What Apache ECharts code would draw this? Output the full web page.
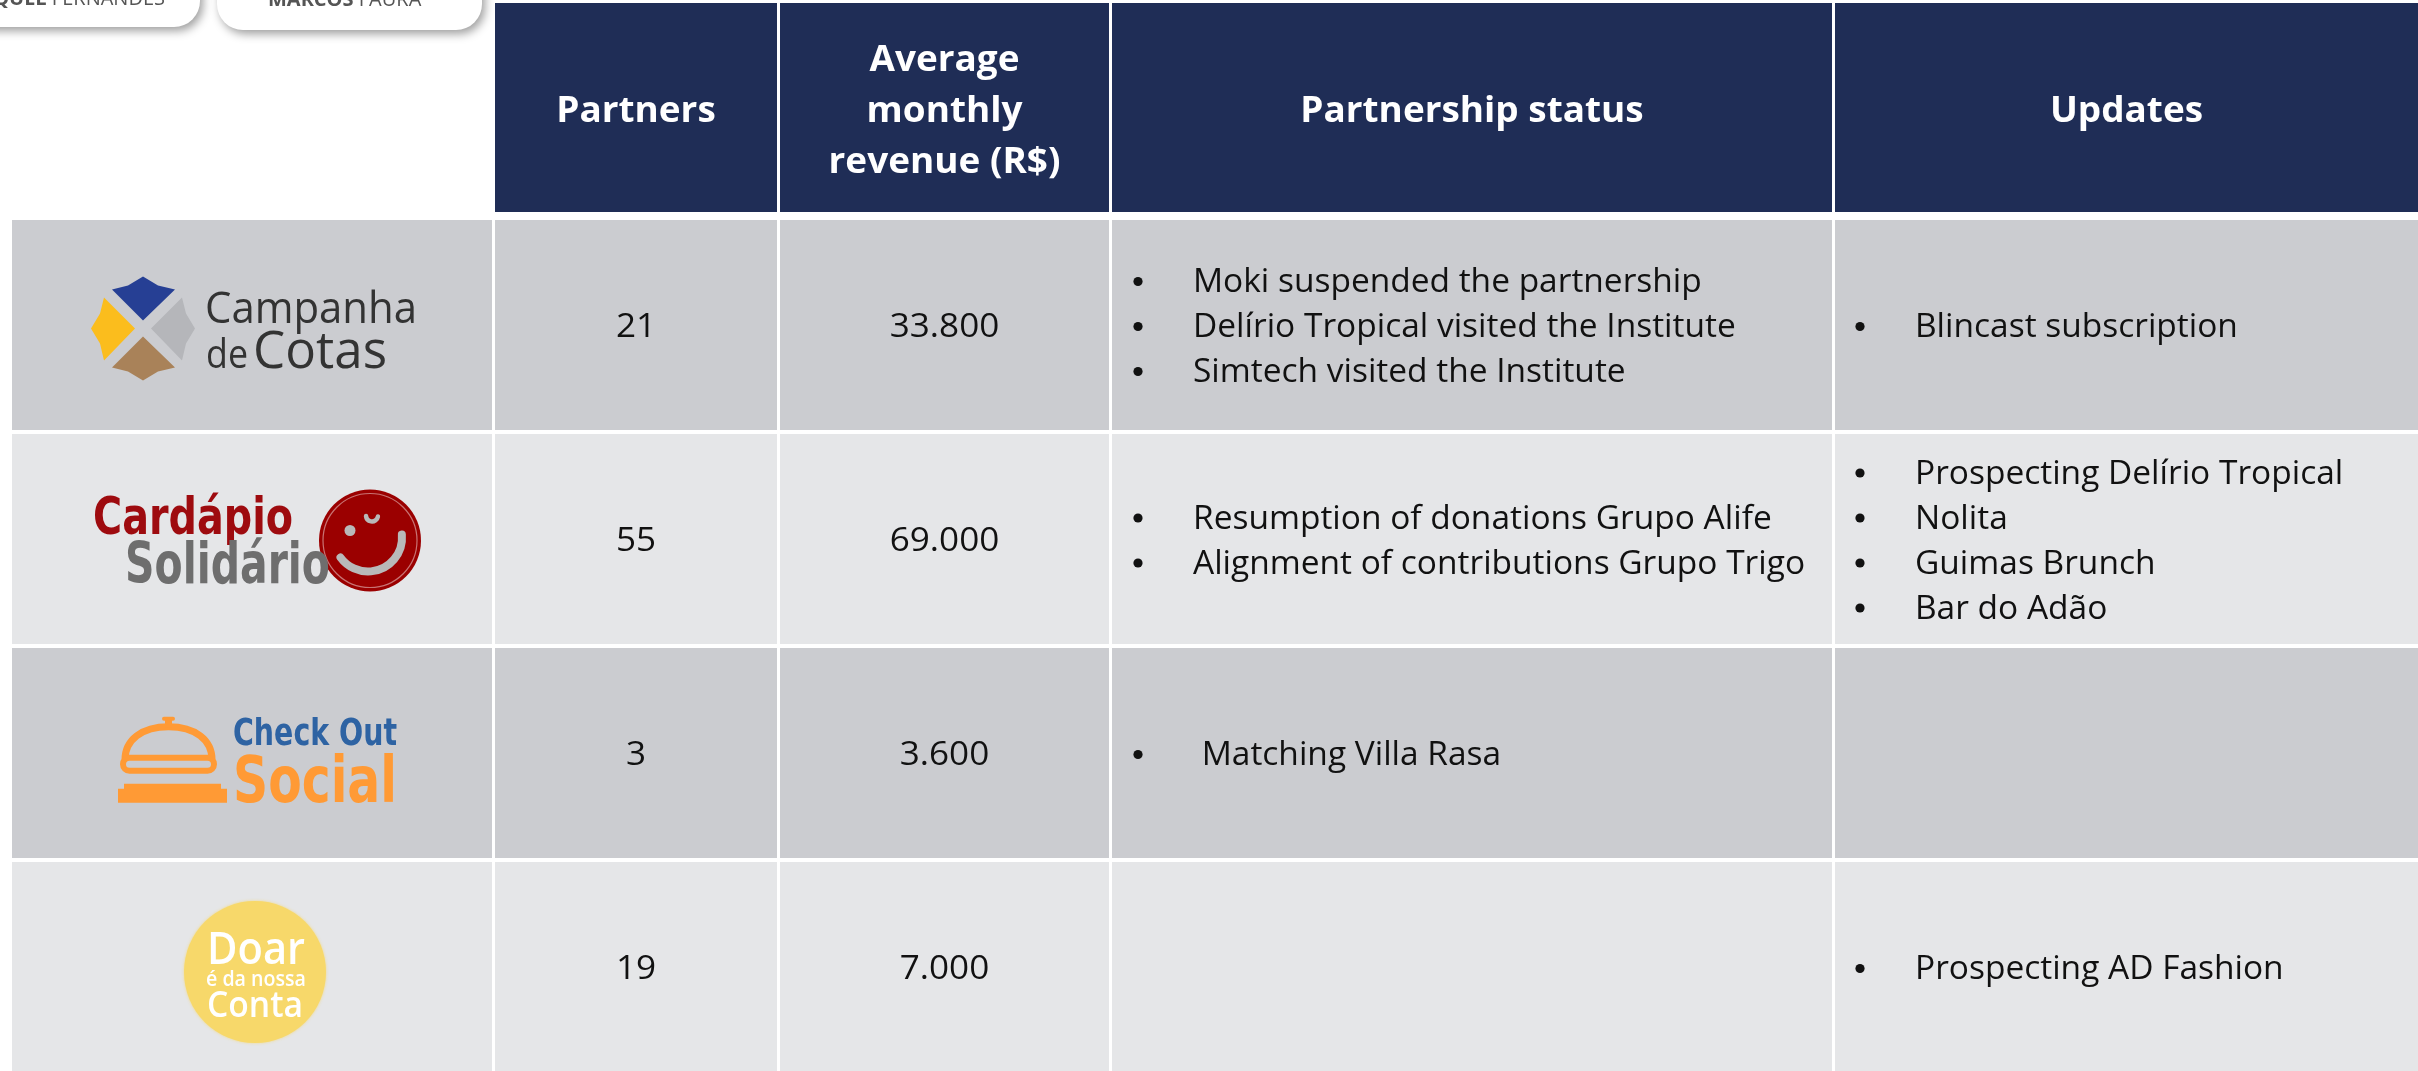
<!DOCTYPE html>
<html>
<head>
<meta charset="utf-8">
<title>Partners table</title>
<script src="https://cdn.jsdelivr.net/npm/echarts@6.0.0/dist/echarts.min.js"></script>
<style>
html,body{margin:0;padding:0;background:#ffffff;overflow:hidden;}
#chart{width:2418px;height:1071px;}
</style>
</head>
<body>
<div id="chart"></div>
<script>
// ---------------- data ----------------
const columnHeaders = ['', 'Partners', 'Average\nmonthly\nrevenue (R$)', 'Partnership status', 'Updates'];
const partners = ['Campanha de Cotas', 'Cardápio Solidário', 'Check Out Social', 'Doar é da nossa Conta'];
const partnerCounts = [21, 55, 3, 19];
const avgMonthlyRevenue = [33800, 69000, 3600, 7000];
const partnershipStatus = [
  ['Moki suspended the partnership', 'Delírio Tropical visited the Institute', 'Simtech visited the Institute'],
  ['Resumption of donations Grupo Alife', 'Alignment of contributions Grupo Trigo'],
  [' Matching Villa Rasa'],
  []
];
const updates = [
  ['Blincast subscription'],
  ['Prospecting Delírio Tropical', 'Nolita', 'Guimas Brunch', 'Bar do Adão'],
  [],
  ['Prospecting AD Fashion']
];
const tabNames = [['RAQUEL', 'FERNANDES'], ['MARCOS', 'FAURA']];

// ---------------- layout / style ----------------
const LAYOUT = {
  colEdges: [12, 493.5, 778.5, 1110.5, 1833.5, 2418],
  gridTop: 5,
  gridHeight: 1070,
  cellGap: 3,
  headerTopExtra: 2,
  headerBottomGap: 7,
  lineHeight: 45,
  headerLineHeight: 51,
  headerColor: '#1f2d56',
  rowColors: ['#cbccd0', '#e5e6e8'],
  textColor: '#111111',
  bodySize: 32.5,
  bodyScaleX: 1.03,
  numberScaleX: 1.08,
  bodyNudge: 3.5,
  bulletRise: 7,
  headerSize: 35,
  headerScaleX: 1.055,
  bodyFont: '"Open Sans", "Noto Sans", sans-serif',
  narrowFont: '"Liberation Sans Narrow", "DejaVu Sans Condensed", sans-serif',
  logoNudge: [1.5, 0.5, 0.8, 0]
};

// ---------------- text helpers ----------------
const mctx = document.createElement('canvas').getContext('2d');
function measureWidth(str, font) { mctx.font = font; mctx.textBaseline = 'alphabetic'; return mctx.measureText(str).width || 1; }
function midOffset(font) {
  mctx.font = font;
  mctx.textBaseline = 'alphabetic';
  const a = mctx.measureText('H').actualBoundingBoxAscent;
  mctx.textBaseline = 'middle';
  const b = mctx.measureText('H').actualBoundingBoxAscent;
  mctx.textBaseline = 'alphabetic';
  const d = a - b;
  return isFinite(d) ? d : 0;
}
function capRatio(weight, family) {
  mctx.font = weight + ' 100px ' + family; mctx.textBaseline = 'alphabetic';
  const h = mctx.measureText('H').actualBoundingBoxAscent;
  return (isFinite(h) && h > 0) ? h / 100 : 0.72;
}
function textEl(str, x, baseline, o) {
  const weight = o.weight || 'normal';
  const family = o.family || LAYOUT.bodyFont;
  let size = o.size;
  if (o.capH) size = o.capH / capRatio(weight, family);
  const font = weight + ' ' + size.toFixed(2) + 'px ' + family;
  let sx = o.scaleX || 1;
  if (o.width) sx = o.width / measureWidth(str, font);
  const align = o.align || 'left';
  return {
    type: 'text', x: x, y: baseline - midOffset(font) + (o.dy || 0), scaleX: sx, silent: true,
    style: { text: str, font: font, fill: o.color, textAlign: align, textVerticalAlign: 'middle', align: align, verticalAlign: 'middle' }
  };
}
function fmtThousands(n) { return String(n).replace(/\B(?=(\d{3})+(?!\d))/g, '.'); }

// ---------------- logos ----------------
function logoCampanha(lx, ly) {
  const ix = lx - 112, iy = ly + 1;
  const top = [[-31, -39], [-15, -43], [0, -52], [15, -43], [32, -39], [0, -8]];
  const pieces = [
    { pts: top, color: '#263f94' },
    { pts: top.map(p => [p[1], p[0]]), color: '#fbbd1d' },
    { pts: top.map(p => [-p[1], p[0]]), color: '#b5b6ba' },
    { pts: top.map(p => [p[0], -p[1]]), color: '#a98259' }
  ];
  const els = pieces.map(pc => ({
    type: 'polygon', silent: true,
    shape: { points: pc.pts.map(p => [ix + p[0], iy + p[1]]) },
    style: { fill: pc.color }
  }));
  const col = '#333333';
  els.push(textEl('Campanha', lx - 50, ly - 5, { capH: 32, width: 212, color: col }));
  els.push(textEl('de', lx - 49, ly + 40, { size: 40, width: 42, color: col }));
  els.push(textEl('Cotas', lx - 2, ly + 40, { capH: 38, width: 134, color: col }));
  return els;
}
function logoCardapio(lx, ly) {
  const grey = '#b9b9b9';
  const ccx = lx + 115, ccy = ly;
  const els = [
    { type: 'circle', silent: true, shape: { cx: ccx, cy: ccy, r: 51 }, style: { fill: '#9b0000' } },
    { type: 'circle', silent: true, shape: { cx: ccx, cy: ccy, r: 47 }, style: { fill: 'none', stroke: 'rgba(255,255,255,0.45)', lineWidth: 1.2 } },
    { type: 'arc', silent: true, shape: { cx: ccx - 2, cy: ccy - 3, r: 34, startAngle: -5 * Math.PI / 180, endAngle: 144 * Math.PI / 180, clockwise: true }, style: { fill: 'none', stroke: grey, lineWidth: 8, lineCap: 'round' } },
    { type: 'circle', silent: true, shape: { cx: ccx - 20, cy: ccy - 10, r: 5.5 }, style: { fill: grey } },
    { type: 'arc', silent: true, shape: { cx: ccx + 2, cy: ccy - 25, r: 6, startAngle: 10 * Math.PI / 180, endAngle: 175 * Math.PI / 180, clockwise: true }, style: { fill: 'none', stroke: grey, lineWidth: 4.5, lineCap: 'round' } }
  ];
  els.push(textEl('Cardápio', lx - 162, ly - 7, { capH: 38, width: 200, weight: 'bold', family: LAYOUT.narrowFont, color: '#9e0b0f' }));
  els.push(textEl('Solidário', lx - 130, ly + 42, { capH: 42, width: 205, weight: 'bold', family: LAYOUT.narrowFont, color: '#6e6e6e' }));
  return els;
}
function logoCheckOut(lx, ly) {
  const orange = '#ff9a35';
  const dome = 'M' + (lx - 130) + ',' + (ly + 5) +
    ' C' + (lx - 130) + ',' + (ly - 15) + ' ' + (lx - 113) + ',' + (ly - 28) + ' ' + (lx - 86.5) + ',' + (ly - 28) +
    ' C' + (lx - 60) + ',' + (ly - 28) + ' ' + (lx - 43) + ',' + (ly - 15) + ' ' + (lx - 43) + ',' + (ly + 5);
  const els = [
    { type: 'path', silent: true, shape: { pathData: dome }, style: { fill: 'none', stroke: orange, lineWidth: 7 } },
    { type: 'rect', silent: true, shape: { x: lx - 132, y: ly + 3, width: 91, height: 13, r: 6.5 }, style: { fill: 'none', stroke: orange, lineWidth: 6 } },
    { type: 'rect', silent: true, shape: { x: lx - 90, y: ly - 37, width: 7, height: 10 }, style: { fill: orange } },
    { type: 'rect', silent: true, shape: { x: lx - 93, y: ly - 38, width: 13, height: 4, r: 2 }, style: { fill: orange } },
    { type: 'rect', silent: true, shape: { x: lx - 131, y: ly + 29, width: 97, height: 6 }, style: { fill: orange } },
    { type: 'rect', silent: true, shape: { x: lx - 137, y: ly + 34, width: 109, height: 14 }, style: { fill: orange } }
  ];
  els.push(textEl('Check Out', lx - 22, ly - 10, { capH: 27, width: 164, weight: 'bold', family: LAYOUT.narrowFont, color: '#2e63a3' }));
  els.push(textEl('Social', lx - 22, ly + 47, { capH: 47, width: 164, weight: 'bold', family: LAYOUT.narrowFont, color: orange }));
  return els;
}
function logoDoar(lx, ly) {
  const els = [
    { type: 'circle', silent: true, shape: { cx: lx, cy: ly + 4, r: 71 }, style: { fill: '#f7d86a', shadowBlur: 3, shadowColor: 'rgba(247,216,106,0.8)' } }
  ];
  els.push(textEl('Doar', lx + 1, ly - 4, { capH: 33, width: 98, weight: '600', color: '#ffffff', align: 'center' }));
  els.push(textEl('é da nossa', lx + 1, ly + 18, { size: 22, width: 100, weight: '600', color: '#ffffff', align: 'center' }));
  els.push(textEl('Conta', lx, ly + 49, { capH: 26, width: 96, weight: '600', color: '#ffffff', align: 'center' }));
  return els;
}
const logoDrawers = [logoCampanha, logoCardapio, logoCheckOut, logoDoar];

// ---------------- cells ----------------
const rowKeys = ['header'].concat(partners);
const cells = [];
for (let r = 0; r < rowKeys.length; r++) {
  for (let c = 0; c < columnHeaders.length; c++) {
    if (r === 0 && c === 0) continue;
    cells.push([LAYOUT.colEdges[c], r, LAYOUT.colEdges[c + 1], c]);
  }
}

function renderCell(params, api) {
  const r = api.value(1), c = api.value(3);
  const pA = api.coord([api.value(0), r]);
  const pB = api.coord([api.value(2), r]);
  const bandH = api.size([0, 1])[1];
  const cy = pA[1];
  let top = cy - bandH / 2, bot = cy + bandH / 2;
  const half = LAYOUT.cellGap / 2;
  const x0 = pA[0] + (c === 0 ? 0 : half);
  const x1 = pB[0] - (c === columnHeaders.length - 1 ? 0 : half);
  if (r === 0) { top -= LAYOUT.headerTopExtra; bot -= LAYOUT.headerBottomGap; } else { top += 1; bot -= LAYOUT.cellGap; }
  const fill = r === 0 ? LAYOUT.headerColor : LAYOUT.rowColors[(r - 1) % 2];
  const children = [{ type: 'rect', silent: true, shape: { x: x0, y: top, width: x1 - x0, height: bot - top }, style: { fill: fill } }];
  const cx = (x0 + x1) / 2;
  if (r === 0) {
    const lines = columnHeaders[c].split('\n');
    const hc = (top + bot) / 2;
    lines.forEach((ln, i) => {
      children.push(textEl(ln, cx, hc + 14 + (i - (lines.length - 1) / 2) * LAYOUT.headerLineHeight,
        { size: LAYOUT.headerSize, scaleX: LAYOUT.headerScaleX, weight: 'bold', color: '#ffffff', align: 'center' }));
    });
  } else {
    const i = r - 1;
    const body = { size: LAYOUT.bodySize, color: LAYOUT.textColor, dy: LAYOUT.bodyNudge };
    if (c === 0) {
      logoDrawers[i](cx + 3, cy + LAYOUT.logoNudge[i]).forEach(e => children.push(e));
    } else if (c === 1) {
      children.push(textEl(String(partnerCounts[i]), cx, cy + 7.5, Object.assign({ align: 'center', scaleX: LAYOUT.numberScaleX }, body)));
    } else if (c === 2) {
      children.push(textEl(fmtThousands(avgMonthlyRevenue[i]), cx, cy + 7.5, Object.assign({ align: 'center', scaleX: LAYOUT.numberScaleX }, body)));
    } else {
      const items = c === 3 ? partnershipStatus[i] : updates[i];
      const bulletX = x0 + (c === 3 ? 26 : 25);
      const textX = x0 + (c === 3 ? 81 : 80);
      items.forEach((it, k) => {
        const bl = cy + 7.5 + (k - (items.length - 1) / 2) * LAYOUT.lineHeight;
        children.push({ type: 'circle', silent: true, shape: { cx: bulletX, cy: bl - LAYOUT.bulletRise, r: 4.6 }, style: { fill: LAYOUT.textColor } });
        children.push(textEl(it, textX, bl, Object.assign({ align: 'left', scaleX: LAYOUT.bodyScaleX }, body)));
      });
    }
  }
  return { type: 'group', children: children };
}

// ---------------- top tabs (decoration) ----------------
function tabGraphics() {
  const tabFont = '"Open Sans", "Noto Sans", sans-serif';
  const size = 20;
  const shadow = { shadowBlur: 10, shadowColor: 'rgba(0,0,0,0.38)', shadowOffsetX: 3, shadowOffsetY: 4 };
  const els = [
    { type: 'rect', shape: { x: -40, y: -40, width: 240, height: 67, r: [0, 0, 26, 0] }, style: Object.assign({ fill: '#ffffff' }, shadow), z: 10 },
    { type: 'rect', shape: { x: 217, y: -40, width: 265, height: 70, r: [0, 0, 26, 26] }, style: Object.assign({ fill: '#ffffff' }, shadow), z: 10 }
  ];
  const bFont = 'bold ' + size + 'px ' + tabFont, nFont = 'normal ' + size + 'px ' + tabFont;
  const base = 5;
  const w2 = measureWidth(tabNames[0][1], nFont), sp = measureWidth(' ', nFont);
  const t1 = textEl(tabNames[0][1], 165, base, { size: size, family: tabFont, color: '#555555', align: 'right' });
  const t1b = textEl(tabNames[0][0], 165 - w2 - sp, base, { size: size, weight: 'bold', family: tabFont, color: '#555555', align: 'right' });
  const wb = measureWidth(tabNames[1][0], bFont);
  const t2b = textEl(tabNames[1][0], 268, base + 1, { size: size, weight: 'bold', family: tabFont, color: '#555555' });
  const t2 = textEl(tabNames[1][1], 268 + wb + sp, base + 1, { size: size, family: tabFont, color: '#555555' });
  [t1, t1b, t2b, t2].forEach(t => { t.z = 11; els.push(t); });
  return els;
}

// ---------------- chart ----------------
const chart = echarts.init(document.getElementById('chart'), null, { renderer: 'canvas' });
chart.setOption({
  backgroundColor: '#ffffff',
  animation: false,
  grid: { left: 0, right: 0, top: LAYOUT.gridTop, height: LAYOUT.gridHeight, containLabel: false, outerBoundsMode: 'none' },
  xAxis: { type: 'value', min: 0, max: LAYOUT.colEdges[LAYOUT.colEdges.length - 1], show: false },
  yAxis: { type: 'category', data: rowKeys, inverse: true, show: false },
  tooltip: { show: false },
  series: [{
    type: 'custom',
    renderItem: renderCell,
    encode: { x: [0, 2], y: 1 },
    data: cells,
    clip: false
  }],
  graphic: { elements: tabGraphics() }
});
</script>
</body>
</html>
